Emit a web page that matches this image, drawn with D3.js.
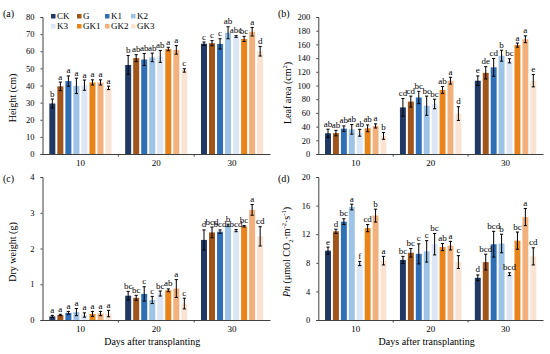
<!DOCTYPE html>
<html><head><meta charset="utf-8">
<script src="https://cdn.jsdelivr.net/npm/d3@7"></script>
<style>
html,body{margin:0;padding:0;background:#fff;}
svg text{font-family:"Liberation Serif","Times New Roman",serif;fill:#000;}
</style></head>
<body>
<svg id="chart" width="550" height="354"></svg>
<script>
const groups = ["10", "20", "30"];
const treatments = ["CK", "G", "K1", "K2", "K3", "GK1", "GK2", "GK3"];
const colors = ["#1f3864", "#a0561a", "#2e6fb5", "#9dc3e6", "#dde6f4", "#e8841a", "#f2b07c", "#f9e3d2"];

const heightTicks = [0, 10, 20, 30, 40, 50, 60, 70, 80];
const heightMean = [[29.5, 39.5, 42.6, 39.8, 40.2, 41.8, 41.8, 38.6], [52, 56, 55.2, 56.4, 57, 61.3, 60.8, 48.8], [64.4, 64.7, 64.3, 70.8, 68.6, 67.2, 71.4, 60]];
const heightErr = [[2.6, 2.5, 3, 4.5, 3, 1.5, 1.5, 1], [5.5, 2, 3.5, 2.5, 3.5, 1, 2.5, 1], [1, 1.5, 3, 3.5, 0.5, 1.5, 2.5, 2.8]];
const heightLetters = [["b", "a", "a", "a", "a", "a", "a", "a"], ["b", "ab", "ab", "ab", "ab", "a", "a", "c"], ["c", "c", "c", "ab", "abc", "bc", "a", "d"]];

const leafTicks = [0, 20, 40, 60, 80, 100, 120, 140, 160, 180, 200];
const leafMean = [[30.2, 30.5, 37, 36, 31, 37.5, 41, 26.5], [68, 76.5, 82.5, 70.5, 73, 93.5, 107, 59], [107, 118.5, 126.5, 143.5, 136, 159, 167.5, 107]];
const leafErr = [[6, 4, 4, 7, 5, 5, 3, 5], [13, 8, 9, 14, 7, 5, 5, 10], [7, 9, 13, 8, 3, 3, 5, 9]];
const leafLetters = [["ab", "ab", "ab", "ab", "ab", "ab", "a", "b"], ["cd", "cd", "bc", "bc", "bc", "ab", "a", "d"], ["e", "de", "cd", "b", "bc", "a", "a", "e"]];

const dryTicks = [0, 1, 2, 3, 4];
const dryMean = [[0.1, 0.14, 0.2, 0.22, 0.14, 0.17, 0.18, 0.18], [0.68, 0.62, 0.73, 0.56, 0.74, 0.83, 0.88, 0.46], [2.24, 2.45, 2.47, 2.65, 2.5, 2.62, 3.08, 2.34]];
const dryErr = [[0.03, 0.02, 0.04, 0.1, 0.06, 0.07, 0.06, 0.09], [0.12, 0.07, 0.2, 0.1, 0.07, 0.04, 0.25, 0.15], [0.28, 0.15, 0.05, 0.03, 0.03, 0.02, 0.15, 0.27]];
const dryLetters = [["a", "a", "a", "a", "a", "a", "a", "a"], ["bc", "bc", "c", "c", "bc", "ab", "a", "c"], ["d", "bcd", "bcd", "b", "bcd", "bc", "a", "cd"]];

const pnTicks = [0, 4, 8, 12, 16, 20];
const pnMean = [[9.7, 12.4, 13.75, 15.8, 7.9, 12.85, 14.6, 8.3], [8.4, 9.4, 9.25, 9.6, 10.6, 10.2, 10.4, 8.1], [5.9, 8.1, 10.6, 10.7, 6.4, 11.1, 14.4, 8.9]];
const pnErr = [[0.5, 0.3, 0.4, 0.4, 0.3, 0.5, 0.9, 0.6], [0.5, 0.6, 1.4, 1.5, 1.5, 0.5, 0.6, 0.9], [0.4, 1.1, 1.8, 1.3, 0.2, 1.2, 1.2, 1.2]];
const pnLetters = [["e", "d", "bc", "a", "f", "cd", "b", "a"], ["bc", "bc", "c", "c", "bc", "ab", "a", "c"], ["d", "bcd", "bcd", "b", "bcd", "bc", "a", "cd"]];

const svg = d3.select("#chart");
const axisColor = "#404040";

function drawPanel(p) {
  const g = svg.append("g");
  const x0 = d3.scaleBand().domain(groups).range([p.left, p.right]).padding(0);
  const x1 = d3.scaleBand().domain(treatments).range([0, x0.bandwidth()]).paddingInner(0.25).paddingOuter(0.85);
  const y = d3.scaleLinear().domain([p.ticks[0], p.ticks[p.ticks.length - 1]]).range([p.bottom, p.top]);

  groups.forEach((grp, gi) => {
    const gg = g.append("g").attr("transform", `translate(${x0(grp)},0)`);
    const rows = treatments.map((t, ti) => ({t, ti, v: p.mean[gi][ti], e: p.err[gi][ti], l: p.letters[gi][ti]}));
    gg.selectAll("rect").data(rows).join("rect")
      .attr("x", d => x1(d.t)).attr("width", x1.bandwidth())
      .attr("y", d => y(d.v)).attr("height", d => y(0) - y(d.v))
      .attr("fill", d => colors[d.ti]);
    const cx = d => x1(d.t) + x1.bandwidth() / 2;
    gg.selectAll("line.eb").data(rows).join("line").attr("class", "eb")
      .attr("x1", cx).attr("x2", cx).attr("y1", d => y(d.v - d.e)).attr("y2", d => y(d.v + d.e))
      .attr("stroke", "#000").attr("stroke-width", 1);
    ["+", "-"].forEach(s => {
      gg.selectAll("line.cap" + (s === "+" ? "t" : "b")).data(rows).join("line").attr("class", "cap" + (s === "+" ? "t" : "b"))
        .attr("x1", d => cx(d) - 1.6).attr("x2", d => cx(d) + 1.6)
        .attr("y1", d => y(s === "+" ? d.v + d.e : d.v - d.e)).attr("y2", d => y(s === "+" ? d.v + d.e : d.v - d.e))
        .attr("stroke", "#000").attr("stroke-width", 1);
    });
    gg.selectAll("text.lt").data(rows).join("text").attr("class", "lt")
      .attr("x", cx).attr("y", d => y(d.v + d.e) - 2.5)
      .attr("text-anchor", "middle").attr("font-size", 9).text(d => d.l);
  });

  // y axis
  const ya = g.append("g").attr("transform", `translate(${p.left},0)`)
    .call(d3.axisLeft(y).tickValues(p.ticks).tickSize(2).tickPadding(6).tickFormat(d3.format("d")));
  ya.selectAll("path,line").attr("stroke", axisColor);
  ya.selectAll("text").attr("font-size", 8.5).attr("font-family", "Liberation Serif");
  // x axis
  const xa = g.append("g").attr("transform", `translate(0,${p.bottom})`)
    .call(d3.axisBottom(x0).tickSize(0).tickPadding(p.xpad));
  xa.select("path").attr("stroke", axisColor);
  xa.selectAll("text").attr("font-size", 9).attr("font-family", "Liberation Serif");
  g.selectAll("line.bt").data(groups.slice(1)).join("line").attr("class", "bt")
    .attr("x1", d => x0(d)).attr("x2", d => x0(d)).attr("y1", p.bottom).attr("y2", p.bottom + 2.5)
    .attr("stroke", axisColor);

  // panel label
  g.append("text").attr("x", p.labX).attr("y", p.labY).attr("font-size", 10).text(p.label);
  // y title
  const yt = g.append("text").attr("transform", `translate(${p.ytX},${p.ytY}) rotate(-90)`)
    .attr("text-anchor", "middle").attr("font-size", 10);
  p.ytitle(yt);
  if (p.xtitle) {
    g.append("text").attr("x", (p.left + p.right) / 2 - 4).attr("y", 345).attr("text-anchor", "middle")
      .attr("font-size", 10).text(p.xtitle);
  }
}

drawPanel({left: 42.5, right: 270, top: 17, bottom: 154, ticks: heightTicks, mean: heightMean, err: heightErr, letters: heightLetters,
  label: "(a)", labX: 3, labY: 17, ytX: 16, ytY: 98, xpad: 6,
  ytitle: t => t.text("Height (cm)")});
drawPanel({left: 318.3, right: 543, top: 17, bottom: 154, ticks: leafTicks, mean: leafMean, err: leafErr, letters: leafLetters,
  label: "(b)", labX: 278, labY: 17, ytX: 291, ytY: 93, xpad: 6,
  ytitle: t => { t.append("tspan").text("Leaf area (cm"); t.append("tspan").attr("font-size", 6.5).attr("dy", -4).text("2"); t.append("tspan").attr("dy", 4).text(")"); }});
drawPanel({left: 42.5, right: 270, top: 177, bottom: 320, ticks: dryTicks, mean: dryMean, err: dryErr, letters: dryLetters,
  label: "(c)", labX: 3, labY: 182, ytX: 16, ytY: 252, xpad: 6, xtitle: "Days after transplanting",
  ytitle: t => t.text("Dry weight (g)")});
drawPanel({left: 318.3, right: 543, top: 177, bottom: 320, ticks: pnTicks, mean: pnMean, err: pnErr, letters: pnLetters,
  label: "(d)", labX: 278, labY: 182, ytX: 290, ytY: 252, xpad: 6, xtitle: "Days after transplanting",
  ytitle: t => {
    t.append("tspan").attr("font-style", "italic").text("Pn");
    t.append("tspan").text(" (μmol CO");
    t.append("tspan").attr("font-size", 6.5).attr("dy", 2.5).text("2");
    t.append("tspan").attr("dy", -2.5).text("·m");
    t.append("tspan").attr("font-size", 6.5).attr("dy", -4).text("-2");
    t.append("tspan").attr("dy", 4).text("·s");
    t.append("tspan").attr("font-size", 6.5).attr("dy", -4).text("-1");
    t.append("tspan").attr("dy", 4).text(")");
  }});

// legend in panel (a)
const legX = [51, 77, 105, 131];
const legend = svg.append("g");
treatments.forEach((t, i) => {
  const lx = legX[i % 4], ly = i < 4 ? 19 : 29;
  legend.append("rect").attr("x", lx).attr("y", ly - 5).attr("width", 4.5).attr("height", 4.5).attr("fill", colors[i]);
  legend.append("text").attr("x", lx + 6).attr("y", ly).attr("font-size", 9).text(t);
});
</script>
</body></html>
